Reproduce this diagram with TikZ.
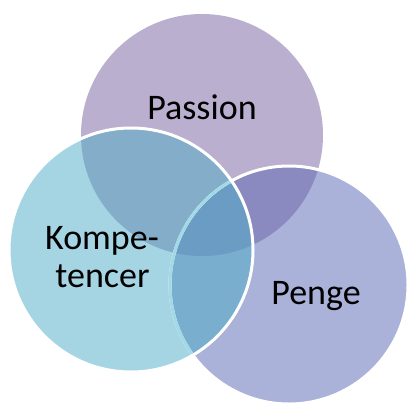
\documentclass[tikz,border=0pt]{standalone}
\usepackage{fontspec}
\setmainfont{Carlito}
\definecolor{cPa}{HTML}{BBAFD0}
\definecolor{cKo}{HTML}{A5D5E3}
\definecolor{cPe}{HTML}{AAB2D9}
\definecolor{cPaKo}{HTML}{84ADC9}
\definecolor{cPaPe}{HTML}{8A8AC0}
\definecolor{cKoPe}{HTML}{79AECF}
\definecolor{cAll}{HTML}{6A9CC4}
\definecolor{cLine}{HTML}{A2D9E6}
\begin{document}
\begin{tikzpicture}[x=1pt,y=-1pt,
  lbl/.style={inner sep=0pt,font=\fontsize{36}{40}\selectfont,text=black},
  rim/.style={draw=white,line width=3pt}]
\useasboundingbox (0,0) rectangle (409,402);
\def\Pa{(202,135) circle (121pt)}
\def\Ko{(131,250) circle (122pt)}
\def\Pe{(289,285) circle (119pt)}
% single circles
\fill[cPa] \Pa;
\fill[cPe] \Pe;
\fill[cKo] \Ko;
% pairwise overlaps
\begin{scope}\clip \Pa; \fill[cPaKo] \Ko; \fill[cPaPe] \Pe; \end{scope}
\begin{scope}\clip \Ko; \fill[cKoPe] \Pe; \end{scope}
\begin{scope}\clip \Pa; \clip \Ko; \fill[cAll] \Pe; \end{scope}
% outlines
\begin{scope}\clip (0,0) rectangle (409,402); \draw[rim] \Pe; \end{scope}
\begin{scope}\clip \Ko; \draw[draw=cLine,line width=3pt] \Pe; \end{scope}
\draw[rim] \Ko;
% labels
\node[lbl,anchor=base] (passion) at (202,119.5) {Passion};
\node[lbl,anchor=base] (kompe) at (102,249.5) {Kompe-};
\node[lbl,anchor=base] (tencer) at (102.5,287.5) {tencer};
\node[lbl,anchor=base] (penge) at (316,304.5) {Penge};
\end{tikzpicture}
\end{document}
